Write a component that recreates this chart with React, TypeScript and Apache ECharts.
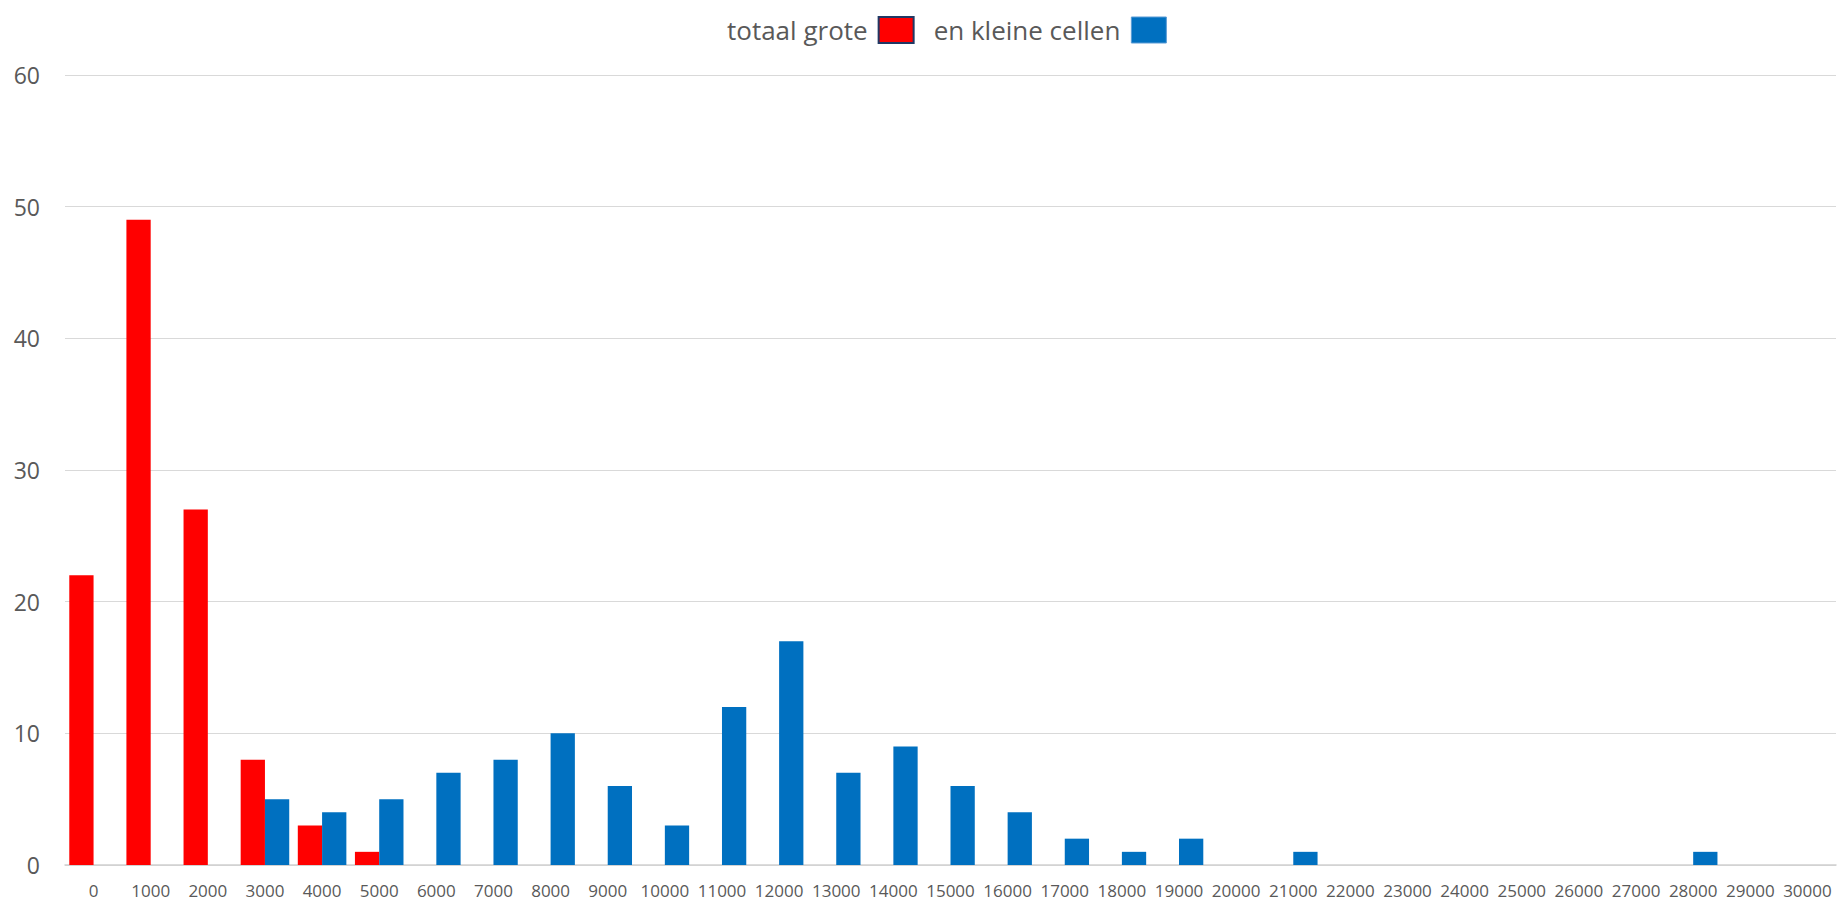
import React, { useEffect, useRef } from "react";
import * as echarts from "echarts";

const categories = [
  "0", "1000", "2000", "3000", "4000", "5000", "6000", "7000", "8000", "9000",
  "10000", "11000", "12000", "13000", "14000", "15000", "16000", "17000", "18000", "19000",
  "20000", "21000", "22000", "23000", "24000", "25000", "26000", "27000", "28000", "29000", "30000",
];

const grote = [22, 49, 27, 8, 3, 1, 0, 0, 0, 0, 0, 0, 0, 0, 0, 0, 0, 0, 0, 0, 0, 0, 0, 0, 0, 0, 0, 0, 0, 0, 0];

const kleine = [0, 0, 0, 5, 4, 5, 7, 8, 10, 6, 3, 12, 17, 7, 9, 6, 4, 2, 1, 2, 0, 1, 0, 0, 0, 0, 0, 0, 1, 0, 0];

const yTicks = { min: 0, max: 60, interval: 10 };

const FONT = "'Open Sans', 'Noto Sans', sans-serif";

export default function App() {
  const ref = useRef<HTMLDivElement>(null);

  useEffect(() => {
    if (!ref.current) return;
    const chart = echarts.init(ref.current, null, { renderer: "svg" });
    chart.setOption({
      animation: false,
      backgroundColor: "#ffffff",
      textStyle: { fontFamily: FONT },
      legend: {
        top: 16,
        left: 727,
        padding: 0,
        align: "right",
        itemWidth: 35,
        itemHeight: 26,
        itemGap: 19,
        icon: "rect",
        textStyle: {
          fontFamily: FONT,
          fontSize: 26,
          color: "#595959",
          padding: [0, 6, 0, 0],
        },
        data: [
          {
            name: "totaal grote",
            itemStyle: { color: "#FF0000", borderColor: "#203864", borderWidth: 2 },
          },
          {
            name: "en kleine cellen",
            itemStyle: { color: "#0070C0", borderColor: "#5B9BD5", borderWidth: 1 },
          },
        ],
      },
      grid: { left: 65, right: 3, top: 75, bottom: 37, containLabel: false },
      xAxis: {
        type: "category",
        data: categories,
        axisTick: { show: false },
        axisLine: { show: true, lineStyle: { color: "#d0d0d0", width: 1.5 } },
        axisLabel: {
          interval: 0,
          fontFamily: FONT,
          fontSize: 17,
          lineHeight: 17,
          color: "#595959",
          margin: 17,
        },
      },
      yAxis: {
        type: "value",
        min: yTicks.min,
        max: yTicks.max,
        interval: yTicks.interval,
        axisLine: { show: false },
        axisTick: { show: false },
        splitLine: { lineStyle: { color: "#d9d9d9", width: 1 } },
        axisLabel: {
          fontFamily: FONT,
          fontSize: 23,
          color: "#595959",
          margin: 25,
        },
      },
      series: [
        {
          name: "totaal grote",
          type: "bar",
          data: grote,
          barGap: "0%",
          barCategoryGap: "15%",
          itemStyle: { color: "#FF0000" },
        },
        {
          name: "en kleine cellen",
          type: "bar",
          data: kleine,
          barGap: "0%",
          barCategoryGap: "15%",
          itemStyle: { color: "#0070C0" },
        },
      ],
    });
    return () => chart.dispose();
  }, []);

  return (
    <div
      ref={ref}
      style={{ position: "fixed", left: 0, top: 0, width: 1839, height: 902 }}
    />
  );
}
